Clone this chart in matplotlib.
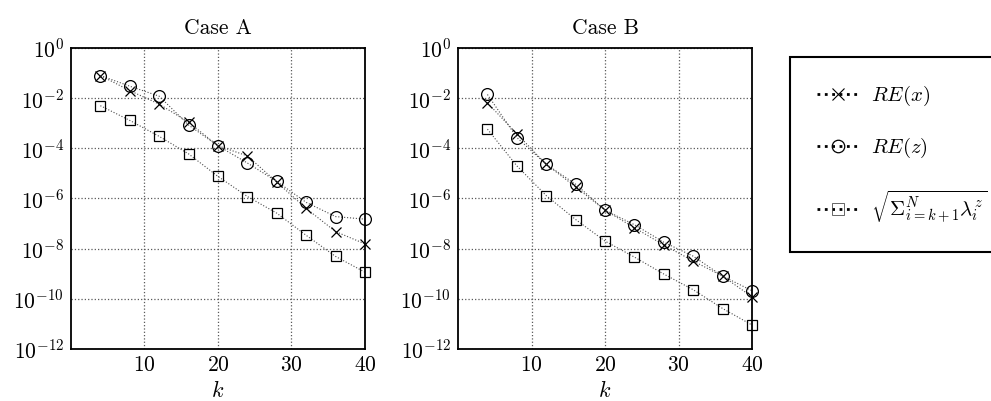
import matplotlib
matplotlib.use('Agg')
import matplotlib.pyplot as plt
from matplotlib.lines import Line2D

plt.rcParams['font.family'] = 'serif'
plt.rcParams['font.serif'] = ['cmr10']
plt.rcParams['mathtext.fontset'] = 'cm'
plt.rcParams['axes.formatter.use_mathtext'] = True
plt.rcParams['font.size'] = 15

k = [4, 8, 12, 16, 20, 24, 28, 32, 36, 40]

# Case A
re_x_a = [8e-2, 2e-2, 5.8e-3, 1.1e-3, 1.26e-4, 5e-5, 4.5e-6, 4e-7, 4.8e-8, 1.55e-8]
re_z_a = [8e-2, 3e-2, 1.2e-2, 8.5e-4, 1.26e-4, 2.6e-5, 4.8e-6, 7e-7, 1.9e-7, 1.5e-7]
sq_a = [5e-3, 1.3e-3, 3e-4, 6e-5, 7.6e-6, 1.2e-6, 2.6e-7, 3.4e-8, 4.9e-9, 1.15e-9]

# Case B
re_x_b = [6.5e-3, 3.8e-4, 2.3e-5, 2.9e-6, 3.4e-7, 6.8e-8, 1.4e-8, 3.2e-9, 8e-10, 1.2e-10]
re_z_b = [1.4e-2, 2.7e-4, 2.3e-5, 3.7e-6, 3.4e-7, 9e-8, 1.8e-8, 5e-9, 8e-10, 2.1e-10]
sq_b = [5.8e-4, 2e-5, 1.3e-6, 1.45e-7, 2e-8, 4.6e-9, 9.7e-10, 2.3e-10, 4.1e-11, 9e-12]

labels = [r'$RE(x)$', r'$RE(z)$', r'$\sqrt{\Sigma_{i=k+1}^{N}\lambda_i^z}$']
yticks = [1e0, 1e-2, 1e-4, 1e-6, 1e-8, 1e-10, 1e-12]

fig = plt.figure(figsize=(9.91, 4.01), dpi=100)
ax1 = fig.add_axes([0.0716, 0.1297, 0.2967, 0.7506])
ax2 = fig.add_axes([0.4622, 0.1297, 0.2967, 0.7506])

line_kw = dict(color='0.3', linestyle=':', linewidth=0.8, clip_on=False)
for ax, rx, rz, sq, title in [(ax1, re_x_a, re_z_a, sq_a, 'Case A'),
                              (ax2, re_x_b, re_z_b, sq_b, 'Case B')]:
    ax.semilogy(k, rx, marker='x', markersize=7, markeredgewidth=0.9,
                markeredgecolor='k', **line_kw)
    ax.semilogy(k, rz, marker='o', markersize=8.5, markerfacecolor='none',
                markeredgewidth=0.9, markeredgecolor='k', **line_kw)
    ax.semilogy(k, sq, marker='s', markersize=7, markerfacecolor='none',
                markeredgewidth=0.9, markeredgecolor='k', **line_kw)
    ax.set_xlim(0, 40)
    ax.set_ylim(1e-12, 1)
    ax.set_xticks([10, 20, 30, 40])
    ax.set_yticks(yticks)
    ax.minorticks_off()
    ax.tick_params(length=0, pad=5, labelsize=15.5)
    ax.grid(True, linestyle=':', color='0.35', linewidth=0.9)
    for s in ax.spines.values():
        s.set_linewidth(1.3)
    ax.set_title(title, fontsize=15.5, pad=10)
    ax.set_xlabel(r'$k$', fontsize=16, labelpad=3)

handles = [
    Line2D([], [], color='k', linestyle=':', linewidth=2, marker='x',
           markersize=8, markeredgewidth=0.8),
    Line2D([], [], color='k', linestyle=':', linewidth=2, marker='o',
           markersize=9, markerfacecolor='none', markeredgewidth=0.9),
    Line2D([], [], color='k', linestyle=':', linewidth=2, marker='s',
           markersize=8, markerfacecolor='none', markeredgewidth=0.6,
           markeredgecolor='0.3'),
]
leg = fig.legend(handles, labels, loc='upper left',
                 bbox_to_anchor=(0.797, 0.858), frameon=True, fancybox=False,
                 edgecolor='k', framealpha=1, fontsize=15,
                 handlelength=2.0, handletextpad=0.6, labelspacing=1.35,
                 borderpad=1.3, borderaxespad=0)
leg.get_frame().set_linewidth(1.5)

fig.savefig('out.png', dpi=100)
